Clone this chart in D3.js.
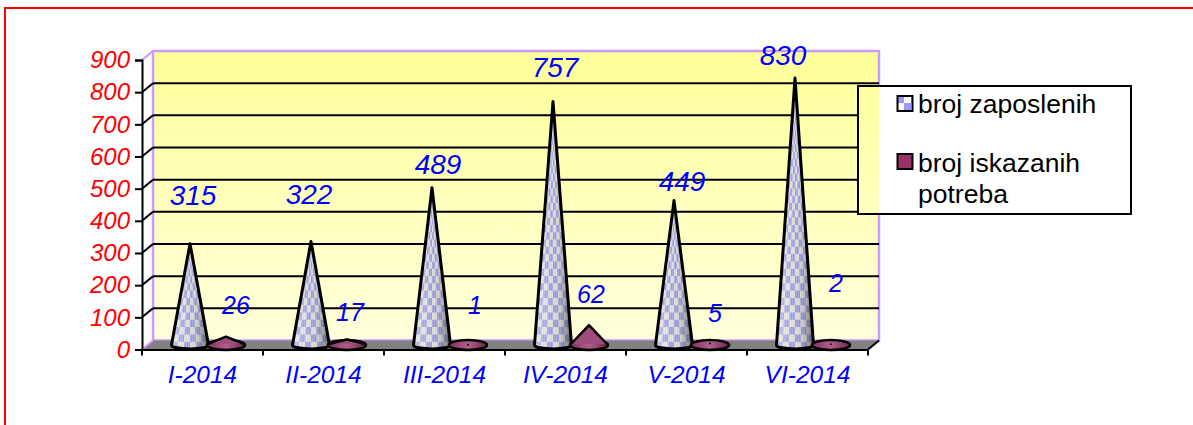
<!DOCTYPE html>
<html>
<head>
<meta charset="utf-8">
<title>broj zaposlenih</title>
<script src="https://cdn.jsdelivr.net/npm/d3@7/dist/d3.min.js"></script>
<style>
  html, body { margin: 0; padding: 0; background: #fff; }
  svg { display: block; }
  text { font-family: "Liberation Sans", Arial, sans-serif; }
</style>
</head>
<body>
<svg id="mainsvg" width="1193" height="425"></svg>
<script>
// data
const categories = ['I-2014', 'II-2014', 'III-2014', 'IV-2014', 'V-2014', 'VI-2014'];
const seriesNames = ['broj zaposlenih', 'broj iskazanih potreba'];
const zaposleni = [315, 322, 489, 757, 449, 830];
const potrebe = [26, 17, 1, 62, 5, 2];
const yTicks = [0, 100, 200, 300, 400, 500, 600, 700, 800, 900];

// labels were dragged by hand in the original, so each has its own shift from the cone tip
const labelShiftA = [[3, -39], [-2, -37], [6, -14], [2, -24], [8, -10], [-12, -13]];
const labelShiftB = [[10, -23], [3, -19], [7, -31], [2, -22], [5, -21], [5, -52]];

const svg = d3.select('#mainsvg');
const depthX = 11, depthY = -9;   // shift from front plane to back wall
const plotLeft = 142, plotRight = 868, plotBottom = 349.5, plotTop = 60;

const x0 = d3.scaleBand().domain(categories).range([plotLeft, plotRight]);
const x1 = d3.scaleBand().domain(seriesNames).range([30, 102]);
const y = d3.scaleLinear().domain([0, 900]).range([plotBottom, plotTop]);
const coneY = v => y(v) + depthY / 2;

// paper frame
svg.append('path').attr('d', 'M5,425V8H1193').attr('fill', 'none').attr('stroke', '#ff0000').attr('stroke-width', 2);

const defs = svg.append('defs');
const wallGrad = defs.append('linearGradient').attr('id', 'wallGrad')
  .attr('x1', 0).attr('x2', 0).attr('y1', 0).attr('y2', 1);
wallGrad.append('stop').attr('offset', 0).attr('stop-color', '#ffff99');
wallGrad.append('stop').attr('offset', 1).attr('stop-color', '#ffffdc');
const shade = defs.append('linearGradient').attr('id', 'coneShade');
[[0, '#fff', .35], [.35, '#fff', .1], [.62, '#888', .08], [.85, '#444', .4], [1, '#222', .65]].forEach(s => {
  shade.append('stop').attr('offset', s[0]).attr('stop-color', s[1]).attr('stop-opacity', s[2]);
});
const shadeB = defs.append('linearGradient').attr('id', 'coneShadeB');
[[0, '#8a2c5c'], [.5, '#b0608c'], [1, '#6e2449']].forEach(s => {
  shadeB.append('stop').attr('offset', s[0]).attr('stop-color', s[1]);
});
// thin vertical stripes that run through the checker cells
defs.append('pattern').attr('id', 'stripes').attr('width', 2).attr('height', 4)
  .attr('patternUnits', 'userSpaceOnUse')
  .append('rect').attr('width', 1).attr('height', 4).attr('fill', '#fff').attr('opacity', .18);

// walls
const wallL = plotLeft + depthX, wallR = plotRight + depthX, wallT = y(900) + depthY, wallB = y(0) + depthY;
svg.append('rect').attr('class', 'wall').attr('x', wallL).attr('y', wallT)
  .attr('width', wallR - wallL).attr('height', wallB - wallT)
  .attr('fill', 'url(#wallGrad)').attr('stroke', '#cc99ff').attr('stroke-width', 2.5);

// floor
svg.append('path')
  .attr('d', `M${plotLeft},${plotBottom}L${wallL},${wallB}H${wallR}L${plotRight},${plotBottom}Z`)
  .attr('fill', '#808080');

// grid on wall + short step on the side
const gridG = svg.append('g');
yTicks.slice(1, -1).forEach(t => {
  gridG.append('line').attr('x1', wallL).attr('x2', wallR).attr('y1', y(t) + depthY).attr('y2', y(t) + depthY)
    .attr('stroke', '#000').attr('stroke-width', 2);
});
yTicks.forEach(t => {
  gridG.append('line').attr('x1', plotLeft).attr('x2', wallL).attr('y1', y(t)).attr('y2', y(t) + depthY)
    .attr('stroke', t === 900 || t === 0 ? '#cc99ff' : '#000').attr('stroke-width', 2);
});

// axes
const yAxis = d3.axisLeft(y).tickValues(yTicks).tickSize(7).tickPadding(5);
const yG = svg.append('g').attr('transform', `translate(${plotLeft},0)`).call(yAxis);
yG.selectAll('.tick text').attr('font-size', 24).attr('font-style', 'italic').attr('fill', '#ff0000');
yG.selectAll('line,path').attr('stroke', '#000').attr('stroke-width', 2);

const xAxis = d3.axisBottom(x0).tickValues([]).tickSize(0);
const xG = svg.append('g').attr('transform', `translate(0,${plotBottom})`).call(xAxis);
xG.select('path').attr('stroke', '#000').attr('stroke-width', 2);
categories.concat(['end']).forEach((c, i) => {
  const px = i < categories.length ? x0(c) : plotRight;
  xG.append('line').attr('x1', px).attr('x2', px).attr('y1', 0).attr('y2', 6).attr('stroke', '#000').attr('stroke-width', 2);
});
svg.append('line').attr('x1', plotRight).attr('x2', wallR).attr('y1', plotBottom).attr('y2', wallB)
  .attr('stroke', '#000').attr('stroke-width', 2);
categories.forEach(c => {
  svg.append('text').attr('x', x0(c) + x0.bandwidth() / 2).attr('y', 383)
    .attr('text-anchor', 'middle').attr('font-size', 24.5).attr('font-style', 'italic').attr('fill', '#0000ff').text(c);
});

// cones
const baseR = 18.5, baseRy = 4;
function conePath(cx, tip, base) {
  return `M${cx},${tip}L${cx + baseR},${base}A${baseR},${baseRy} 0 0 1 ${cx - baseR},${base}Z`;
}
const baseY = coneY(0);

zaposleni.forEach((v, i) => {
  const cx = x0(categories[i]) + x1(seriesNames[0]) + x1.bandwidth() / 2;
  const tip = coneY(v);
  const g = svg.append('g');
  const id = 'clipA' + i;
  defs.append('clipPath').attr('id', id).append('path').attr('d', conePath(cx, tip, baseY));
  const cells = g.append('g').attr('clip-path', `url(#${id})`);
  const box = sel => sel.attr('x', cx - baseR).attr('y', tip).attr('width', baseR * 2).attr('height', baseY - tip + baseRy);
  cells.append('rect').call(box).attr('fill', '#dcdcd0');
  // checker wrapped round the cone: rows keep their height, columns narrow towards the tip
  const rowH = 7.3, cols = 6;
  const rows = d3.range(Math.ceil((baseY + baseRy - tip) / rowH));
  const rad = yy => baseR * Math.max(0, Math.min(1, (yy - tip) / (baseY - tip)));
  rows.forEach(r => {
    const yb = baseY + baseRy - r * rowH, yt = yb - rowH;
    d3.range(cols).forEach(c => {
      if ((r + c) % 2) return;
      const u0 = c / cols * 2 - 1, u1 = (c + 1) / cols * 2 - 1;
      const pts = [[cx + rad(yb) * u0, yb], [cx + rad(yb) * u1, yb],
        [cx + rad(yt) * u1, yt], [cx + rad(yt) * u0, yt]];
      cells.append('path').attr('d', d3.line()(pts) + 'Z').attr('fill', '#9696e4');
    });
  });
  cells.append('rect').call(box).attr('fill', 'url(#stripes)');
  cells.append('rect').call(box).attr('fill', 'url(#coneShade)');
  g.append('path').attr('d', conePath(cx, tip, baseY)).attr('fill', 'none').attr('stroke', '#000').attr('stroke-width', 3).attr('stroke-linejoin', 'round');
});

// the small cones are seen from above: a full base ellipse, and the tip pokes out or sits inside it
const smallRx = 19, smallRy = 5;
potrebe.forEach((v, i) => {
  const cx = x0(categories[i]) + x1(seriesNames[1]) + x1.bandwidth() / 2;
  const tip = coneY(v);
  const g = svg.append('g').attr('stroke', '#000').attr('stroke-width', 2.5).attr('stroke-linejoin', 'round');
  g.append('ellipse').attr('cx', cx).attr('cy', baseY).attr('rx', smallRx).attr('ry', smallRy).attr('fill', 'url(#coneShadeB)');
  if (tip < baseY - smallRy + 1) {
    g.append('path').attr('d', `M${cx - smallRx + 1},${baseY - 1}L${cx},${tip}L${cx + smallRx - 1},${baseY - 1}`)
      .attr('fill', '#a04c7c');
  } else {
    g.append('circle').attr('cx', cx).attr('cy', tip).attr('r', 1).attr('fill', '#000').attr('stroke', 'none');
  }
});

// data labels
const labelStyle = s => s.attr('text-anchor', 'middle').attr('font-style', 'italic').attr('fill', '#0000ff');
zaposleni.forEach((v, i) => {
  const cx = x0(categories[i]) + x1(seriesNames[0]) + x1.bandwidth() / 2;
  svg.append('text').attr('x', cx + labelShiftA[i][0]).attr('y', coneY(v) + labelShiftA[i][1]).call(labelStyle).attr('font-size', 28).text(v);
});
potrebe.forEach((v, i) => {
  const cx = x0(categories[i]) + x1(seriesNames[1]) + x1.bandwidth() / 2;
  svg.append('text').attr('x', cx + labelShiftB[i][0]).attr('y', coneY(v) + labelShiftB[i][1]).call(labelStyle).attr('font-size', 25).text(v);
});

// legend: its white box sits over the wall, the yellow still shows through inside
const lx = 858, ly = 86, lw = 273, lh = 128;
svg.append('rect').attr('x', lx).attr('y', ly).attr('width', lw).attr('height', lh).attr('fill', '#fff');
defs.append('clipPath').attr('id', 'legendClip').append('rect').attr('x', lx).attr('y', ly).attr('width', wallR - lx).attr('height', lh);
svg.append('rect').attr('x', wallL).attr('y', wallT).attr('width', wallR - wallL).attr('height', wallB - wallT)
  .attr('fill', 'url(#wallGrad)').attr('clip-path', 'url(#legendClip)');
svg.append('rect').attr('x', lx).attr('y', ly).attr('width', lw).attr('height', lh)
  .attr('fill', 'none').attr('stroke', '#000').attr('stroke-width', 2);

defs.append('pattern').attr('id', 'legendCheck').attr('width', 14).attr('height', 14)
  .attr('patternUnits', 'userSpaceOnUse').attr('x', 897).attr('y', 96)
  .call(p => {
    p.append('rect').attr('width', 14).attr('height', 14).attr('fill', '#fff');
    p.append('rect').attr('width', 7).attr('height', 7).attr('fill', '#9999ff');
    p.append('rect').attr('x', 7).attr('y', 7).attr('width', 7).attr('height', 7).attr('fill', '#9999ff');
  });
svg.append('rect').attr('x', 897.5).attr('y', 96).attr('width', 15).attr('height', 15)
  .attr('fill', 'url(#legendCheck)').attr('stroke', '#000').attr('stroke-width', 2);
svg.append('rect').attr('x', 897.5).attr('y', 154).attr('width', 15).attr('height', 15)
  .attr('fill', '#993366').attr('stroke', '#000').attr('stroke-width', 2);
const legendText = (yy, t) => svg.append('text').attr('x', 918).attr('y', yy).attr('font-size', 26.5).attr('fill', '#000').text(t);
legendText(113, 'broj zaposlenih');
legendText(172, 'broj iskazanih');
legendText(203, 'potreba');
</script>
</body>
</html>
